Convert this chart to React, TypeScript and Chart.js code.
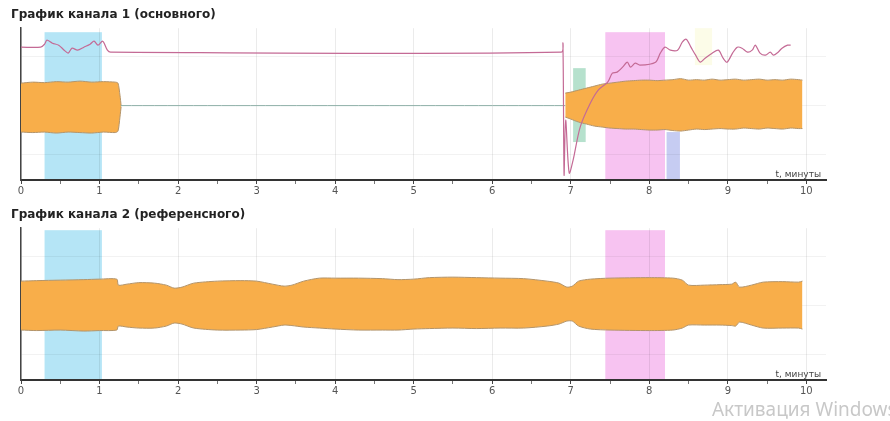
import React, { useEffect, useRef } from "react";
import { Chart, registerables } from "chart.js";
Chart.register(...registerables);

// ---------- data ----------
const title1 = "График канала 1 (основного)";
const title2 = "График канала 2 (референсного)";
const axisLabel = "t, минуты";
const watermark = "Активация Windows";

const majorTicks = [0, 1, 2, 3, 4, 5, 6, 7, 8, 9, 10];
const xTickLabels = ["0", "1", "2", "3", "4", "5", "6", "7", "8", "9", "10"];
const minorTicks = [0.5, 1.5, 2.5, 3.5, 4.5, 5.5, 6.5, 7.5, 8.5, 9.5];
const yGridValues = [-49, 0, 49];

// channel 1 envelope, first block
const ch1LeftX = [0, 0.15, 0.3, 0.45, 0.6, 0.75, 0.9, 1.05, 1.2, 1.235, 1.26, 1.275];
const ch1LeftUp = [22, 23, 22.5, 23.5, 23, 24, 23, 23.5, 23, 22, 10, -0.5];
const ch1LeftLo = [-27, -27.5, -27, -28, -27, -27.5, -28, -27, -27.5, -26, -12, -1.5];

// channel 1 envelope, second block
const ch1RightX = [6.93, 7.0, 7.1, 7.2, 7.3, 7.4, 7.5, 7.6, 7.7, 7.8, 7.9, 8.0, 8.1, 8.2, 8.3, 8.4, 8.5, 8.6, 8.7, 8.8, 8.9, 9.0, 9.1, 9.2, 9.3, 9.4, 9.5, 9.6, 9.7, 9.8, 9.9, 9.95];
const ch1RightUp = [12, 13, 15, 17, 19, 21, 22, 23, 24, 24.5, 25, 25, 24.5, 25, 25.5, 26.5, 25, 25.5, 25, 26, 25, 25.5, 26, 25, 25.5, 26, 25, 25.5, 25, 26, 25.5, 25];
const ch1RightLo = [-12, -14, -17, -19, -21, -22, -23, -23.5, -24, -24, -24.5, -25, -25, -24.5, -25.5, -26, -25, -24, -24.5, -24, -23.5, -24, -24, -23, -23.5, -24, -23, -23.5, -24, -23, -23.5, -23.5];

// channel 1 thin flat signal between the blocks
const ch1FlatX = [1.27, 6.93];
const ch1FlatY = [-0.5, -0.5];

// channel 1 pink trace
const pinkX = [0, 0.25, 0.30, 0.33, 0.40, 0.48, 0.55, 0.60, 0.65, 0.72, 0.80, 0.88, 0.93, 0.98, 1.04, 1.10, 1.14, 6.88, 6.90, 6.915, 6.935, 6.98, 7.03, 7.12, 7.25, 7.35, 7.47, 7.53, 7.59, 7.66, 7.72, 7.76, 7.82, 7.88, 8.08, 8.14, 8.20, 8.27, 8.36, 8.42, 8.47, 8.53, 8.59, 8.65, 8.71, 8.80, 8.88, 8.94, 8.99, 9.06, 9.12, 9.18, 9.25, 9.31, 9.35, 9.41, 9.48, 9.54, 9.58, 9.64, 9.69, 9.76, 9.80];
const pinkY = [58, 58, 61, 65, 62, 60, 55, 52, 57, 55, 58, 61, 64, 60, 64, 55, 53, 53, 62, -70, -15, -68, -55, -22, 2, 15, 23, 32, 33, 38, 43, 38, 42, 40, 43, 52, 58, 55, 55, 63, 66, 58, 50, 43, 47, 52, 55, 47, 43, 52, 58, 57, 53, 55, 60, 52, 50, 53, 50, 53, 57, 60, 60];

// channel 2 envelope
const ch2X = [0, 0.2, 0.5, 0.8, 1.0, 1.22, 1.24, 1.35, 1.5, 1.7, 1.85, 1.95, 2.05, 2.2, 2.5, 2.8, 3.0, 3.2, 3.35, 3.45, 3.6, 3.8, 4.0, 4.3, 4.6, 4.8, 5.0, 5.2, 5.5, 5.8, 6.1, 6.4, 6.7, 6.85, 6.95, 7.02, 7.1, 7.25, 7.5, 8.0, 8.3, 8.42, 8.5, 8.7, 8.9, 9.05, 9.1, 9.15, 9.3, 9.45, 9.7, 9.9, 9.95];
const ch2Up = [24, 24.5, 25, 25.5, 26, 26, 20, 21, 22.5, 22, 20, 17, 18, 22, 24, 24.5, 24, 21, 19, 20, 24, 27, 27, 27, 26.5, 25.5, 26, 27.5, 28, 27.5, 27, 26.5, 24, 22, 18, 19, 24, 26, 27, 27.5, 27, 25, 20, 20, 20.5, 21, 23, 18, 20, 23, 23.5, 23, 24];
const ch2Lo = [-25, -25.5, -25, -26, -25.5, -25, -21, -22, -23, -23, -21, -18, -19, -23, -25, -25, -24.5, -22, -20, -20.5, -22, -23, -24, -25, -25, -25, -24, -23.5, -23, -23.5, -23, -23, -21, -19, -16, -16, -21, -24, -25, -25.5, -25, -23, -20, -20, -20, -20.5, -21, -17, -20, -23, -23, -23, -24];

// highlighted intervals
const ch1BandStart = [0.3, 7.03, 7.44, 8.22, 8.58];
const ch1BandEnd = [1.03, 7.19, 8.2, 8.39, 8.8];
const ch1BandLow = [-75, -37, -75, -75, 40];
const ch1BandHigh = [73, 37, 73, -27, 77];
const ch1BandColors = ["#b5e5f6", "#b6e1cd", "#f7c3f1", "#c6ccf2", "#fcfce8"];

const ch2BandStart = [0.3, 7.44];
const ch2BandEnd = [1.03, 8.2];
const ch2BandLow = [-75, -75];
const ch2BandHigh = [75, 75];
const ch2BandColors = ["#b5e5f6", "#f7c3f1"];

// ---------- helpers ----------
const pts = (xs: number[], ys: number[]) => xs.map((x, i) => ({ x, y: ys[i] }));
const ORANGE = "#f8ae4a";
const EDGE = "#b3946a";

function bandsPlugin(start: number[], end: number[], low: number[], high: number[], colors: string[]) {
  return {
    id: "bands",
    beforeDraw(chart: any) {
      const { ctx, scales } = chart;
      const x = scales.x;
      const y = scales.y;
      ctx.save();
      for (let i = 0; i < start.length; i++) {
        const x0 = x.getPixelForValue(start[i]);
        const x1 = x.getPixelForValue(end[i]);
        const y0 = y.getPixelForValue(high[i]);
        const y1 = y.getPixelForValue(low[i]);
        ctx.fillStyle = colors[i];
        ctx.fillRect(x0, y0, x1 - x0, y1 - y0);
      }
      ctx.restore();
    },
  };
}

const axisLabelPlugin = {
  id: "axisLabel",
  afterDraw(chart: any) {
    const { ctx, chartArea } = chart;
    ctx.save();
    ctx.font = "9px 'DejaVu Sans'";
    ctx.fillStyle = "#444";
    ctx.textAlign = "right";
    ctx.textBaseline = "alphabetic";
    ctx.fillText(axisLabel, chartArea.right - 5, chartArea.bottom - 3);
    ctx.restore();
  },
};

const allTicks = [...majorTicks, ...minorTicks].sort((a, b) => a - b);

function baseOptions(title: string) {
  return {
    responsive: false,
    animation: false,
    events: [],
    layout: { padding: { left: 11, right: 64, top: 0, bottom: 0 } },
    plugins: {
      legend: { display: false },
      tooltip: { enabled: false },
      title: {
        display: true,
        text: title,
        align: "start",
        color: "#222",
        font: { family: "'DejaVu Sans'", size: 12, weight: "bold", lineHeight: 1.1 },
        padding: { top: 8, bottom: 7 },
      },
    },
    elements: { point: { radius: 0 }, line: { tension: 0.25 } },
    scales: {
      x: {
        type: "linear",
        min: 0,
        max: 10.25,
        afterBuildTicks: (s: any) => {
          s.ticks = allTicks.map((v) => ({ value: v }));
        },
        afterFit: (s: any) => {
          s.height = 20;
        },
        ticks: {
          autoSkip: false,
          maxRotation: 0,
          padding: 1,
          color: "#555",
          font: { family: "'DejaVu Sans'", size: 10 },
          callback: (v: number) => {
            const i = majorTicks.indexOf(v);
            return i >= 0 ? xTickLabels[i] : "";
          },
        },
        grid: {
          color: (c: any) => (c.tick && Number.isInteger(c.tick.value) ? "rgba(0,0,0,0.08)" : "rgba(0,0,0,0)"),
          tickColor: (c: any) => (c.tick && Number.isInteger(c.tick.value) ? "#444" : "#777"),
          tickLength: 4,
          tickWidth: 1,
        },
        border: { color: "#333", width: 2 },
      },
      y: {
        min: -75,
        max: 77,
        afterBuildTicks: (s: any) => {
          s.ticks = yGridValues.map((v) => ({ value: v }));
        },
        afterFit: (s: any) => {
          s.width = 10;
        },
        ticks: { display: false },
        grid: { color: "rgba(0,0,0,0.05)", drawTicks: false },
        border: { color: "#444", width: 1.5 },
      },
    },
  };
}

function ChartOne() {
  const ref = useRef<HTMLCanvasElement>(null);
  useEffect(() => {
    const chart = new Chart(ref.current as HTMLCanvasElement, {
      type: "line",
      data: {
        datasets: [
          { data: pts(pinkX, pinkY), borderColor: "#c46a95", borderWidth: 1.2, fill: false, tension: 0.3 },
          { data: pts(ch1FlatX, ch1FlatY), borderColor: "#8fb0a8", borderWidth: 1, fill: false },
          { data: pts(ch1LeftX, ch1LeftUp), borderColor: EDGE, borderWidth: 1, fill: false },
          { data: pts(ch1LeftX, ch1LeftLo), borderColor: EDGE, borderWidth: 1, fill: 2, backgroundColor: ORANGE },
          { data: pts(ch1RightX, ch1RightUp), borderColor: EDGE, borderWidth: 1, fill: false },
          { data: pts(ch1RightX, ch1RightLo), borderColor: EDGE, borderWidth: 1, fill: 4, backgroundColor: ORANGE },
        ],
      },
      options: baseOptions(title1) as any,
      plugins: [bandsPlugin(ch1BandStart, ch1BandEnd, ch1BandLow, ch1BandHigh, ch1BandColors), axisLabelPlugin],
    });
    return () => chart.destroy();
  }, []);
  return <canvas ref={ref} width={890} height={200} style={{ position: "absolute", left: 0, top: 0 }} />;
}

function ChartTwo() {
  const ref = useRef<HTMLCanvasElement>(null);
  useEffect(() => {
    const chart = new Chart(ref.current as HTMLCanvasElement, {
      type: "line",
      data: {
        datasets: [
          { data: pts(ch2X, ch2Up), borderColor: EDGE, borderWidth: 1, fill: false },
          { data: pts(ch2X, ch2Lo), borderColor: EDGE, borderWidth: 1, fill: 0, backgroundColor: ORANGE },
        ],
      },
      options: baseOptions(title2) as any,
      plugins: [bandsPlugin(ch2BandStart, ch2BandEnd, ch2BandLow, ch2BandHigh, ch2BandColors), axisLabelPlugin],
    });
    return () => chart.destroy();
  }, []);
  return <canvas ref={ref} width={890} height={200} style={{ position: "absolute", left: 0, top: 200 }} />;
}

export default function App() {
  return (
    <div style={{ position: "absolute", left: 0, top: 0, width: 890, height: 421, overflow: "hidden", background: "#fff" }}>
      <ChartOne />
      <ChartTwo />
      <div
        style={{
          position: "absolute",
          left: 712,
          top: 396,
          fontFamily: "'Noto Sans'",
          fontSize: 19,
          color: "#c8c8c8",
          whiteSpace: "nowrap",
        }}
      >
        {watermark}
      </div>
    </div>
  );
}
